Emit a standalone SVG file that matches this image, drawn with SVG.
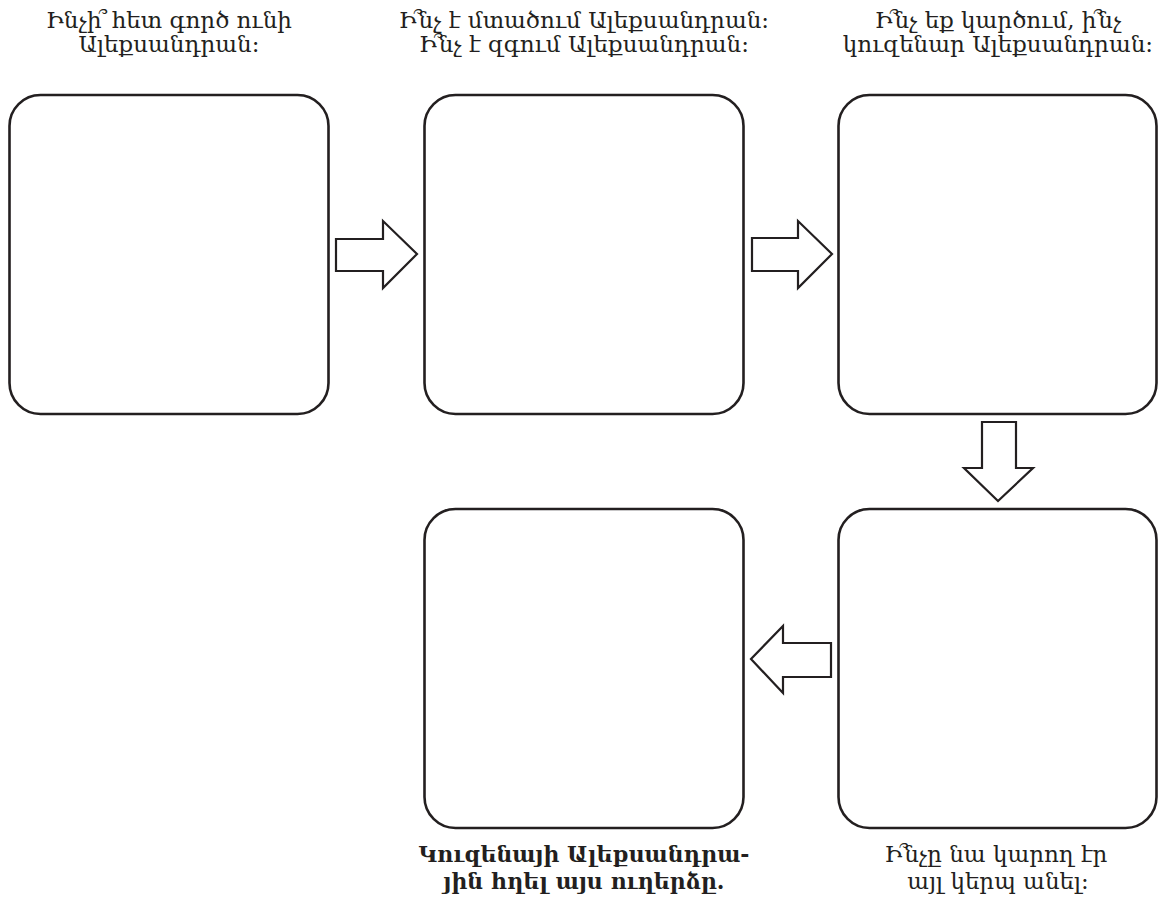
<svg xmlns="http://www.w3.org/2000/svg" width="1160" height="902" viewBox="0 0 1160 902">
<style>
.box{fill:#fff;stroke:#231f20;stroke-width:2.6}
.arr{fill:#fff;stroke:#231f20;stroke-width:2.2;stroke-linejoin:miter}
.t{font-family:"DejaVu Serif","Noto Serif","Liberation Serif",serif;font-size:23px;fill:#231f20;text-anchor:middle}
.b{font-weight:bold;font-size:22px}
</style>
<rect width="1160" height="902" fill="#fff"/>
<g id="node1">
<rect class="box" x="9.5" y="95" width="319" height="319" rx="31" ry="31"/>
<text class="t" x="169" y="28">Ինչի<tspan dx="-3">՞</tspan><tspan dx="-3"> հետ գործ ունի</tspan></text>
<text class="t" x="169" y="52">Ալեքսանդրան։</text>
</g>
<g id="node2">
<rect class="box" x="424.5" y="95" width="319" height="319" rx="31" ry="31"/>
<text class="t" x="584" y="28">Ի<tspan dx="-3">՞</tspan><tspan dx="-4">նչ է մտածում Ալեքսանդրան։</tspan></text>
<text class="t" x="584" y="52">Ի<tspan dx="-3">՞</tspan><tspan dx="-4">նչ է զգում Ալեքսանդրան։</tspan></text>
</g>
<g id="node3">
<rect class="box" x="838.5" y="95" width="318" height="319" rx="31" ry="31"/>
<text class="t" x="998" y="28">Ի<tspan dx="-3">՞</tspan><tspan dx="-4">նչ եք կարծում, ի</tspan><tspan dx="-3">՞</tspan><tspan dx="-4">նչ</tspan></text>
<text class="t" x="998" y="52">կուզենար Ալեքսանդրան։</text>
</g>
<g id="node4">
<rect class="box" x="424.5" y="509" width="319" height="319" rx="31" ry="31"/>
<text class="t b" x="584" y="862">Կուզենայի Ալեքսանդրա-</text>
<text class="t b" x="584" y="889">յին հղել այս ուղերձը.</text>
</g>
<g id="node5">
<rect class="box" x="838.5" y="509" width="318" height="319" rx="31" ry="31"/>
<text class="t" x="996" y="862">Ի<tspan dx="-3">՞</tspan><tspan dx="-4">նչը նա կարող էր</tspan></text>
<text class="t" x="998" y="889">այլ կերպ անել։</text>
</g>
<g id="connectors">
<polygon class="arr" points="336,239 383,239 383,221 417,254 383,288 383,271 336,271"/>
<polygon class="arr" points="752,238 798,238 798,221 832,254 798,288 798,271 752,271"/>
<polygon class="arr" points="982,422 1016,422 1016,468 1033,468 998,501 964,468 982,468"/>
<polygon class="arr" points="831,643 783,643 783,626 751,659 783,693 783,677 831,677"/>
</g>
</svg>
